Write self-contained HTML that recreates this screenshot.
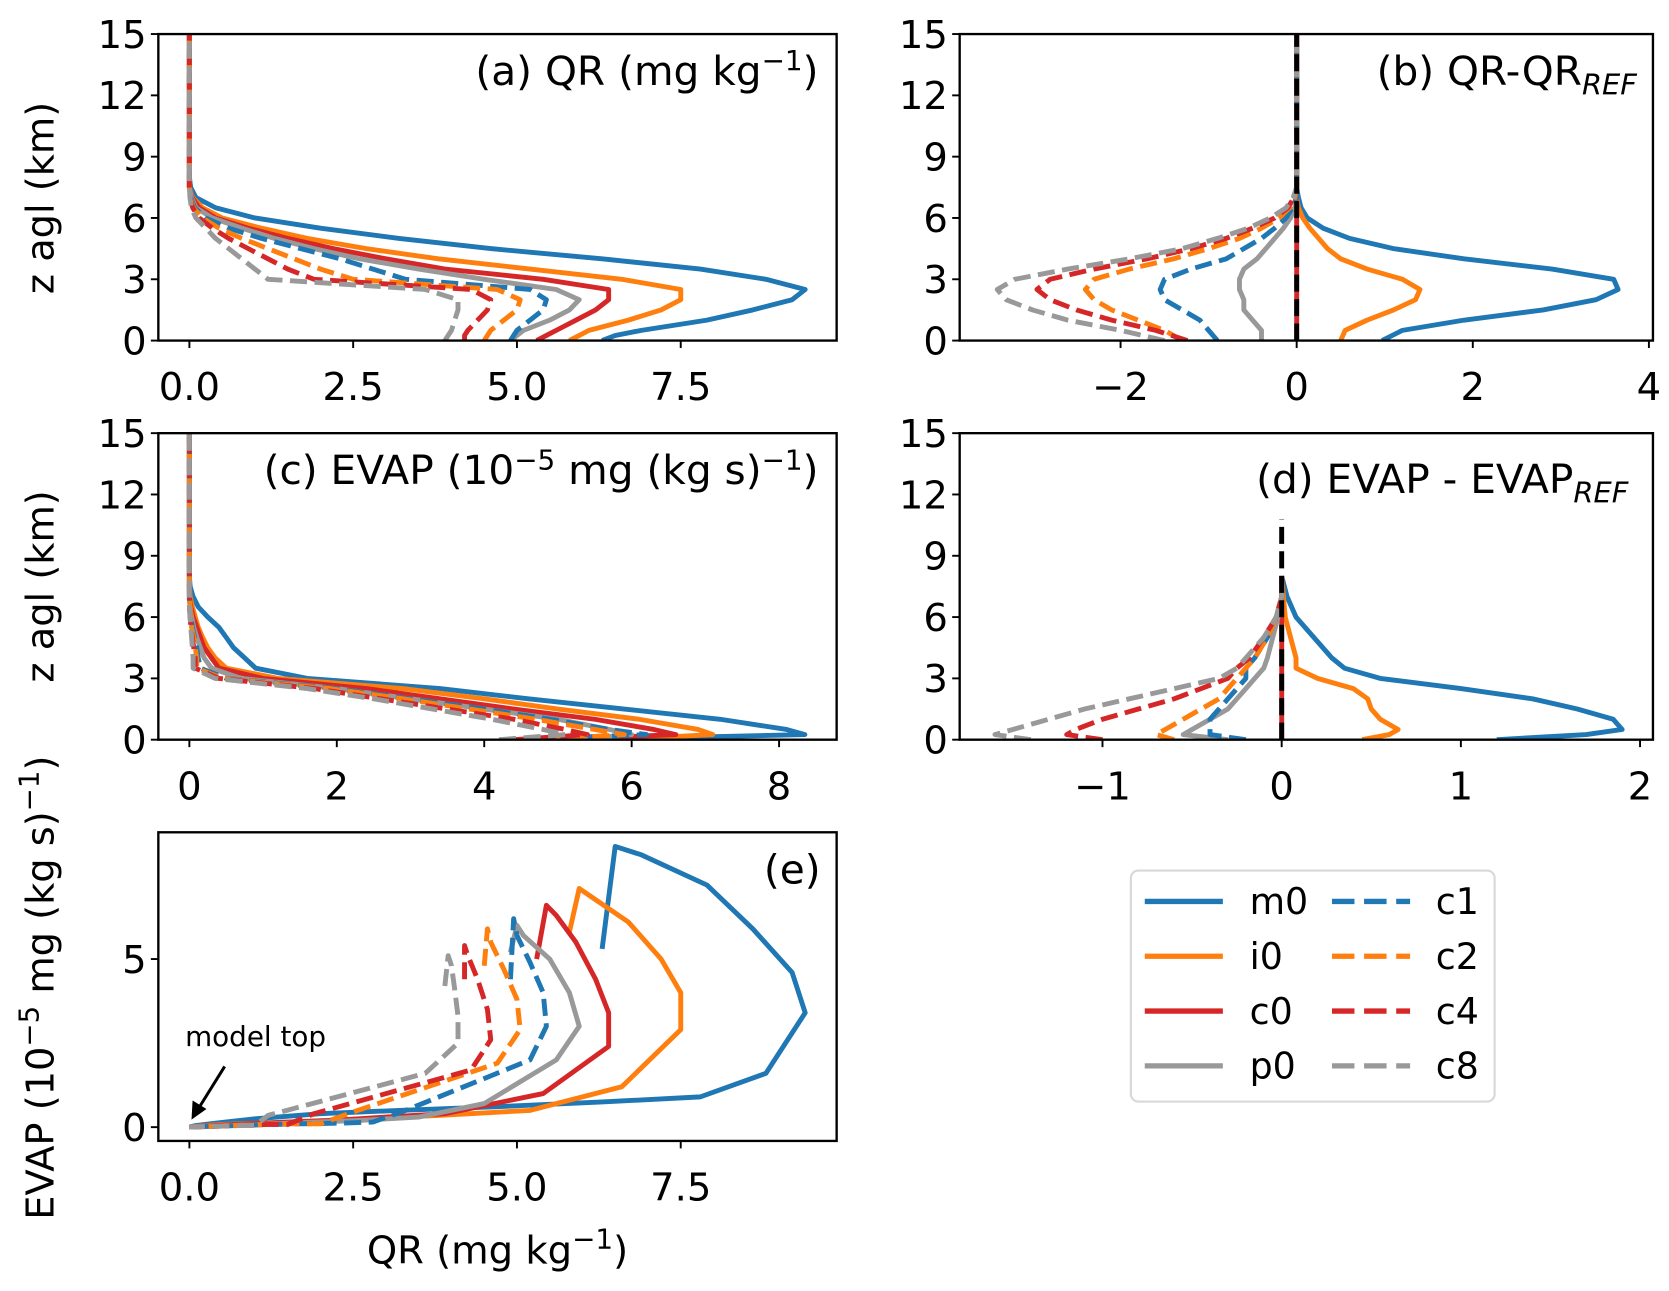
<!DOCTYPE html>
<html><head><meta charset="utf-8"><style>
html,body{margin:0;padding:0;background:#fff;}
svg{display:block;font-family:"DejaVu Sans","Liberation Sans",sans-serif;}
</style></head><body>
<svg id="fig" width="1669" height="1291" viewBox="0 0 1560 1213" preserveAspectRatio="none" xmlns="http://www.w3.org/2000/svg"></svg>
<script>
// ---- data ----
const zGrid = [0,0.25,0.5,1,1.5,2,2.5,3,3.5,4,4.5,5,5.5,6,6.5,7,7.5,8,15];
const qr_m0 = [6.3,6.5,6.9,7.9,8.6,9.2,9.4,8.8,7.8,6.3,4.6,3.2,2.0,1.0,0.4,0.1,0.02,0,0];
const qr_i0 = [5.8,5.95,6.1,6.7,7.2,7.5,7.5,6.6,5.2,3.8,2.7,1.8,1.1,0.5,0.2,0.05,0,0,0];
const qr_c0 = [5.3,5.45,5.6,5.9,6.2,6.4,6.4,5.4,3.9,3.0,2.2,1.5,0.9,0.4,0.15,0.04,0,0,0];
const qr_p0 = [4.9,5.0,5.1,5.5,5.8,5.95,5.6,4.5,3.5,2.6,1.9,1.3,0.8,0.35,0.1,0.03,0,0,0];
const qr_c1 = [4.9,4.95,5.0,5.2,5.4,5.45,5.2,3.3,2.8,2.3,1.7,1.1,0.6,0.25,0.08,0.02,0,0,0];
const qr_c2 = [4.5,4.55,4.6,4.8,5.0,5.05,4.7,2.5,2.0,1.6,1.2,0.8,0.45,0.2,0.06,0.02,0,0,0];
const qr_c4 = [4.2,4.2,4.25,4.4,4.55,4.6,4.3,1.9,1.5,1.2,0.9,0.6,0.35,0.15,0.05,0.01,0,0,0];
const qr_c8 = [3.9,3.95,4.0,4.05,4.1,4.1,3.6,1.2,1.0,0.8,0.6,0.4,0.25,0.1,0.03,0.01,0,0,0];
const ev_m0 = [5.3,8.35,8.1,7.2,5.9,4.6,3.4,1.6,0.9,0.75,0.6,0.5,0.4,0.25,0.12,0.05,0.01,0,0];
const ev_i0 = [5.8,7.1,6.9,6.1,5.0,4.0,2.9,1.2,0.5,0.35,0.25,0.18,0.12,0.08,0.04,0.01,0,0,0];
const ev_c0 = [5.0,6.6,6.3,5.5,4.4,3.4,2.4,1.0,0.4,0.3,0.2,0.15,0.1,0.05,0.02,0,0,0,0];
const ev_p0 = [5.2,6.0,5.7,5.0,4.0,3.0,2.0,0.7,0.3,0.2,0.15,0.1,0.06,0.03,0.01,0,0,0,0];
const ev_c1 = [4.4,6.2,5.7,4.9,4.0,3.0,2.0,0.5,0.15,0.12,0.1,0.07,0.04,0.02,0.01,0,0,0,0];
const ev_c2 = [4.8,5.9,5.5,4.7,3.8,2.9,1.9,0.45,0.1,0.1,0.08,0.06,0.03,0.02,0.01,0,0,0,0];
const ev_c4 = [4.4,5.4,5.1,4.4,3.5,2.6,1.7,0.4,0.08,0.08,0.06,0.04,0.02,0.01,0,0,0,0,0];
const ev_c8 = [4.2,5.1,4.8,4.1,3.3,2.5,1.6,0.35,0.05,0.05,0.04,0.03,0.02,0.01,0,0,0,0,0];
const zB = [0,0.5,1,1.5,2,2.5,3,3.5,4,4.5,5,5.5,6,6.5,7,7.5,8,15];
const dqr_m0 = [0.97,1.2,1.9,2.8,3.4,3.65,3.6,2.9,1.9,1.1,0.6,0.3,0.12,0.05,0.02,0,0,0];
const dqr_i0 = [0.5,0.55,0.8,1.1,1.35,1.4,1.2,0.8,0.5,0.35,0.25,0.15,0.07,0.02,0,0,0,0];
const dqr_c0 = [0,0,0,0,0,0,0,0,0,0,0,0,0,0,0,0,0,0];
const dqr_p0 = [-0.4,-0.4,-0.5,-0.6,-0.6,-0.65,-0.65,-0.6,-0.45,-0.35,-0.25,-0.15,-0.07,-0.02,0,0,0,0];
const dqr_c1 = [-0.9,-1.0,-1.1,-1.3,-1.5,-1.55,-1.5,-1.2,-0.8,-0.6,-0.4,-0.25,-0.12,-0.05,0,0,0,0];
const dqr_c2 = [-1.3,-1.5,-1.8,-2.1,-2.3,-2.4,-2.3,-1.9,-1.4,-1.0,-0.65,-0.4,-0.2,-0.08,-0.02,0,0,0];
const dqr_c4 = [-1.24,-1.6,-2.1,-2.5,-2.8,-2.95,-2.8,-2.3,-1.7,-1.2,-0.8,-0.5,-0.25,-0.1,-0.03,0,0,0];
const dqr_c8 = [-1.5,-2.0,-2.6,-3.0,-3.3,-3.4,-3.2,-2.6,-1.9,-1.3,-0.9,-0.55,-0.3,-0.12,-0.04,0,0,0];
const zD = [0,0.25,0.5,1,1.5,2,2.5,3,3.5,4,5,6,7,8];
const dev_m0 = [1.2,1.7,1.9,1.85,1.65,1.4,1.0,0.55,0.35,0.28,0.18,0.08,0.03,0];
const dev_i0 = [0.45,0.6,0.65,0.55,0.5,0.48,0.4,0.2,0.08,0.08,0.05,0.02,0.01,0];
const dev_c0 = [0,0,0,0,0,0,0,0,0,0,0,0,0,0];
const dev_p0 = [-0.3,-0.55,-0.5,-0.4,-0.3,-0.25,-0.2,-0.15,-0.1,-0.08,-0.05,-0.02,0,0];
const dev_c1 = [-0.2,-0.4,-0.4,-0.4,-0.35,-0.3,-0.25,-0.2,-0.2,-0.15,-0.08,-0.03,0,0];
const dev_c2 = [-0.6,-0.7,-0.65,-0.55,-0.45,-0.35,-0.3,-0.25,-0.2,-0.15,-0.08,-0.03,0,0];
const dev_c4 = [-1.0,-1.2,-1.15,-1.0,-0.8,-0.6,-0.45,-0.3,-0.25,-0.18,-0.1,-0.03,0,0];
const dev_c8 = [-1.4,-1.6,-1.5,-1.3,-1.1,-0.85,-0.6,-0.35,-0.25,-0.2,-0.1,-0.03,0,0];
const seriesNames = ['m0','i0','c0','p0','c1','c2','c4','c8'];
const zTicks = [0,3,6,9,12,15];
const xTicksA = [0,2.5,5,7.5];
const xTicksB = [-2,0,2,4];
const xTicksC = [0,2,4,6,8];
const xTicksD = [-1,0,1,2];
const yTicksE = [0,5];

const COL = {m0:'#1f77b4',i0:'#ff7f0e',c0:'#d62728',p0:'#999999',c1:'#1f77b4',c2:'#ff7f0e',c4:'#d62728',c8:'#999999'};
const DASHED = {c1:1,c2:1,c4:1,c8:1};
const NS='http://www.w3.org/2000/svg';
const svg=document.getElementById('fig');
function el(tag,attrs,parent){const e=document.createElementNS(NS,tag);for(const k in attrs)e.setAttribute(k,attrs[k]);(parent||svg).appendChild(e);return e;}
const TF=36;
function panel(name,box,xr,yr,xt,yt,fmt){
  const g=el('g',{});
  
  
  const sx=v=>box.x0+(v-xr[0])/(xr[1]-xr[0])*(box.x1-box.x0);
  const sy=v=>box.y1-(v-yr[0])/(yr[1]-yr[0])*(box.y1-box.y0);
  xt.forEach(t=>{
    const x=sx(t);
    const l=el('line',{x1:x,x2:x,y1:box.y1,y2:box.y1+7,stroke:'#000','stroke-width':1.8},g);
    
    
    const tx=el('text',{x:x,y:box.y1+56,'font-size':TF,'text-anchor':'middle'},g);
    
    
    tx.textContent=(t<0?'\u2212':'')+(fmt?Math.abs(t).toFixed(1):Math.abs(t));
  });
  yt.forEach(t=>{
    const y=sy(t);
    const l=el('line',{x1:box.x0-7,x2:box.x0,y1:y,y2:y,stroke:'#000','stroke-width':1.8},g);
    
    
    const tx=el('text',{x:box.x0-11,y:y+13,'font-size':TF,'text-anchor':'end'},g);
    
    
    tx.textContent=t;
  });
  const clipId='clip-'+name;
  const cp=el('clipPath',{id:clipId},g);
  el('rect',{x:box.x0,y:box.y0,width:box.x1-box.x0,height:box.y1-box.y0},cp);
  const plot=el('g',{'clip-path':'url(#'+clipId+')'},g);
  return {g,plot,sx,sy,box};
}
function drawLine(p,xs,ys,s){
  const d=xs.map((x,i)=>(i?'L':'M')+p.sx(x).toFixed(1)+' '+p.sy(ys[i]).toFixed(1)).join(' ');
  const path=el('path',{d:d,fill:'none',stroke:COL[s],'stroke-width':4.6,'stroke-linejoin':'round','stroke-dasharray':DASHED[s]?'16,7':'none'},p.plot);
  
  
}
function frame(p){
  const r=el('rect',{x:p.box.x0,y:p.box.y0,width:p.box.x1-p.box.x0,height:p.box.y1-p.box.y0,fill:'none',stroke:'#000','stroke-width':2.2},p.g);
  
  
}
function refLine(p,ztop){
  const l=el('line',{x1:p.sx(0),x2:p.sx(0),y1:p.sy(0),y2:p.sy(ztop),stroke:'#000','stroke-width':4.6,'stroke-dasharray':'16,7'},p.plot);
  
  
}
function title(p,x,y,html){
  const t=el('text',{x:x,y:y,'font-size':38,'text-anchor':'end'},p.g);
  
  
  t.innerHTML=html;
}
const QR={m0:qr_m0,i0:qr_i0,c0:qr_c0,p0:qr_p0,c1:qr_c1,c2:qr_c2,c4:qr_c4,c8:qr_c8};
const EV={m0:ev_m0,i0:ev_i0,c0:ev_c0,p0:ev_p0,c1:ev_c1,c2:ev_c2,c4:ev_c4,c8:ev_c8};
const DQ={m0:dqr_m0,i0:dqr_i0,c0:dqr_c0,p0:dqr_p0,c1:dqr_c1,c2:dqr_c2,c4:dqr_c4,c8:dqr_c8};
const DE={m0:dev_m0,i0:dev_i0,c0:dev_c0,p0:dev_p0,c1:dev_c1,c2:dev_c2,c4:dev_c4,c8:dev_c8};
const order=seriesNames;
const SUP=(s)=>'<tspan dy="-14" font-size="26">'+s+'</tspan>';

// (a)
const pa=panel('panel-a-qr',{x0:148,x1:782,y0:32,y1:320},[-0.474,9.88],[0,15],xTicksA,zTicks,true);
order.forEach(s=>drawLine(pa,QR[s],zGrid,s));
frame(pa);
title(pa,765,80,'(a) QR (mg kg'+SUP('\u22121')+'<tspan dy="14">)</tspan>');
// (b)
const pb=panel('panel-b-qr-diff',{x0:897,x1:1545,y0:32,y1:320},[-3.827,4.046],[0,15],xTicksB,zTicks,false);
order.forEach(s=>drawLine(pb,DQ[s],zB,s));
refLine(pb,15);
frame(pb);
title(pb,1530,80,'(b) QR-QR<tspan dy="9" font-size="27" font-style="italic">REF</tspan>');
// (c)
const pc=panel('panel-c-evap',{x0:148,x1:782,y0:407,y1:695},[-0.421,8.781],[0,15],xTicksC,zTicks,false);
order.forEach(s=>drawLine(pc,EV[s],zGrid,s));
frame(pc);
title(pc,765,455,'(c) EVAP (10'+SUP('\u22125')+'<tspan dy="14"> mg (kg s)</tspan>'+SUP('\u22121')+'<tspan dy="14">)</tspan>');
// (d)
const pd=panel('panel-d-evap-diff',{x0:897,x1:1545,y0:407,y1:695},[-1.797,2.072],[0,15],xTicksD,zTicks,false);
order.forEach(s=>drawLine(pd,DE[s],zD,s));
refLine(pd,10.8);
frame(pd);
title(pd,1522,463,'(d) EVAP - EVAP<tspan dy="9" font-size="27" font-style="italic">REF</tspan>');
// (e)
const pe=panel('panel-e-scatter',{x0:148,x1:782,y0:782,y1:1072},[-0.474,9.88],[-0.41,8.77],xTicksA,yTicksE,true);
order.forEach(s=>drawLine(pe,QR[s],EV[s],s));
frame(pe);
title(pe,767,830,'(e)');
// annotation
const ann=el('g',{});


const at=el('text',{x:173,y:983,'font-size':26},ann);at.textContent='model top';
el('line',{x1:210,y1:1002,x2:184,y2:1044,stroke:'#000','stroke-width':2.8},ann);
el('path',{d:'M179 1052 L180 1034 L193 1042 Z',fill:'#000'},ann);

// axis labels
function vlabel(x,y,html,name){
  const t=el('text',{x:x,y:y,'font-size':36,'text-anchor':'middle',transform:'rotate(-90 '+x+' '+y+')'});
  
  
  t.innerHTML=html;
}
vlabel(50,186,'z agl (km)','y-axis-title-a');
vlabel(50,551,'z agl (km)','y-axis-title-c');
vlabel(50,928,'EVAP (10'+SUP('\u22125')+'<tspan dy="14"> mg (kg s)</tspan>'+SUP('\u22121')+'<tspan dy="14">)</tspan>','y-axis-title-e');
const xl=el('text',{x:465,y:1187,'font-size':36,'text-anchor':'middle'});


xl.innerHTML='QR (mg kg'+SUP('\u22121')+'<tspan dy="14">)</tspan>';

// legend
const lg=el('g',{});


el('rect',{x:1057,y:818,width:340,height:217,rx:7,fill:'#fff',stroke:'#d8d8d8','stroke-width':2},lg);
const legRows=[['m0','c1'],['i0','c2'],['c0','c4'],['p0','c8']];
legRows.forEach((r,i)=>{
  const y=847+i*51.5;
  r.forEach((s,j)=>{
    const x0=j?1245:1070;
    const e=el('g',{},lg);
    
    
    el('line',{x1:x0,x2:x0+73,y1:y,y2:y,stroke:COL[s],'stroke-width':5,'stroke-dasharray':DASHED[s]?'21,9':'none'},e);
    const t=el('text',{x:j?1342:1168,y:y+12,'font-size':34},e);t.textContent=s;
  });
});
</script>
</body></html>
